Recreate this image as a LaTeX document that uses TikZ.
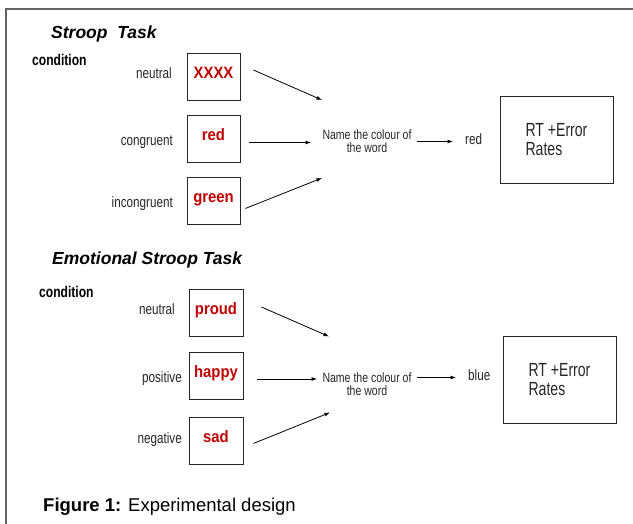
\documentclass[tikz,border=0pt]{standalone}
\usepackage{fontspec}
\setmainfont{Liberation Sans}
\newfontfamily\narrowfont[FakeStretch=0.78]{Liberation Sans}
\newfontfamily\slimfont[FakeStretch=0.74]{Liberation Sans}
\newfontfamily\wordfont[FakeStretch=0.9]{Liberation Sans}
\usetikzlibrary{arrows.meta}
\definecolor{wordred}{RGB}{192,0,0}
\definecolor{framegray}{RGB}{100,100,100}

\begin{document}
\begin{tikzpicture}[x=1pt,y=-1pt,
    >={Latex[length=5.5pt,width=4pt]},
    tasktitle/.style={anchor=west,inner sep=0pt,font=\fontsize{17.5}{20}\selectfont\bfseries\itshape},
    condhead/.style={anchor=west,inner sep=0pt,font=\narrowfont\fontsize{15.5}{17}\selectfont\bfseries},
    condlabel/.style={anchor=east,inner sep=0pt,text height=10pt,text depth=3pt,text=black!85,font=\narrowfont\fontsize{15}{16}\selectfont},
    wordbox/.style={draw=black!85,line width=0.8pt,minimum width=53pt,minimum height=47pt,inner sep=0pt,text height=12pt,text depth=8.5pt,text=wordred,font=\wordfont\fontsize{16.5}{18}\selectfont\bfseries},
    namebox/.style={align=center,inner sep=0pt,text=black!85,font=\narrowfont\fontsize{13.5}{13}\selectfont},
    outword/.style={anchor=west,inner sep=0pt,text height=10pt,text depth=3pt,text=black!85,font=\narrowfont\fontsize{15}{16}\selectfont},
    resultbox/.style={draw=black!85,line width=0.8pt,minimum width=113pt,minimum height=87pt,align=left,text=black!85,font=\slimfont\fontsize{19}{19.5}\selectfont},
    flow/.style={->,line width=0.8pt,shorten <=5pt,shorten >=12pt}]

    \useasboundingbox (0,0) rectangle (633,524);
    \draw[framegray,line width=1.2pt] (6,524) -- (6,9) -- (633,9);

    \node[tasktitle] (sTitle) at (51,33.5) {Stroop\ \ Task};
    \node[condhead] (sCond) at (32,60) {condition};

    \node[condlabel] (sNeutral) at (172,75) {neutral};
    \node[condlabel] (sCongruent) at (173,142) {congruent};
    \node[condlabel] (sIncongruent) at (173,204) {incongruent};

    \node[wordbox] (sBoxA) at (213.5,76.5) {XXXX};
    \node[wordbox] (sBoxB) at (213.5,138.5) {red};
    \node[wordbox] (sBoxC) at (213.5,201) {green};

    \coordinate (sTipA) at (322,100);
    \coordinate (sTipB) at (311,142.5);
    \coordinate (sTipC) at (322,178);
    \draw[->,line width=0.8pt] ([shift={(13,-6.5)}]sBoxA.east) -- (sTipA);
    \draw[->,line width=0.8pt] ([shift={(9,4)}]sBoxB.east) -- (sTipB);
    \draw[->,line width=0.8pt] ([shift={(5,7.5)}]sBoxC.east) -- (sTipC);

    \node[namebox] (sName) at (367,141.5) {Name the colour of\\the word};
    \node[outword] (sOut) at (465,141.5) {red};
    \draw[flow] (sName.east |- sOut.west) -- (sOut.west);

    \node[resultbox] (sResult) at (556.5,139.5) {RT +Error\\Rates};


    \node[tasktitle] (eTitle) at (52,260) {Emotional Stroop Task};
    \node[condhead] (eCond) at (39,291.5) {condition};

    \node[condlabel] (eNeutral) at (175,311.5) {neutral};
    \node[condlabel] (ePositive) at (182,379) {positive};
    \node[condlabel] (eNegative) at (182,440) {negative};

    \node[wordbox,minimum width=54pt] (eBoxA) at (216,312.5) {proud};
    \node[wordbox,minimum width=54pt] (eBoxB) at (216,375.5) {happy};
    \node[wordbox,minimum width=54pt] (eBoxC) at (216,441) {sad};

    \coordinate (eTipA) at (329,336.5);
    \coordinate (eTipB) at (317,379);
    \coordinate (eTipC) at (330,412.5);
    \draw[->,line width=0.8pt] ([shift={(18,-5.5)}]eBoxA.east) -- (eTipA);
    \draw[->,line width=0.8pt] ([shift={(14,3.5)}]eBoxB.east) -- (eTipB);
    \draw[->,line width=0.8pt] ([shift={(10,2.5)}]eBoxC.east) -- (eTipC);

    \node[namebox] (eName) at (367,384) {Name the colour of\\the word};
    \node[outword] (eOut) at (468,377.5) {blue};
    \draw[flow] (eName.east |- eOut.west) -- (eOut.west);

    \node[resultbox] (eResult) at (559.5,379.5) {RT +Error\\Rates};

    \node[anchor=west,inner sep=0pt,font=\fontsize{18.5}{22}\selectfont] (fig) at (43,506.5) {\textbf{Figure 1:} Experimental design};

\end{tikzpicture}
\end{document}
